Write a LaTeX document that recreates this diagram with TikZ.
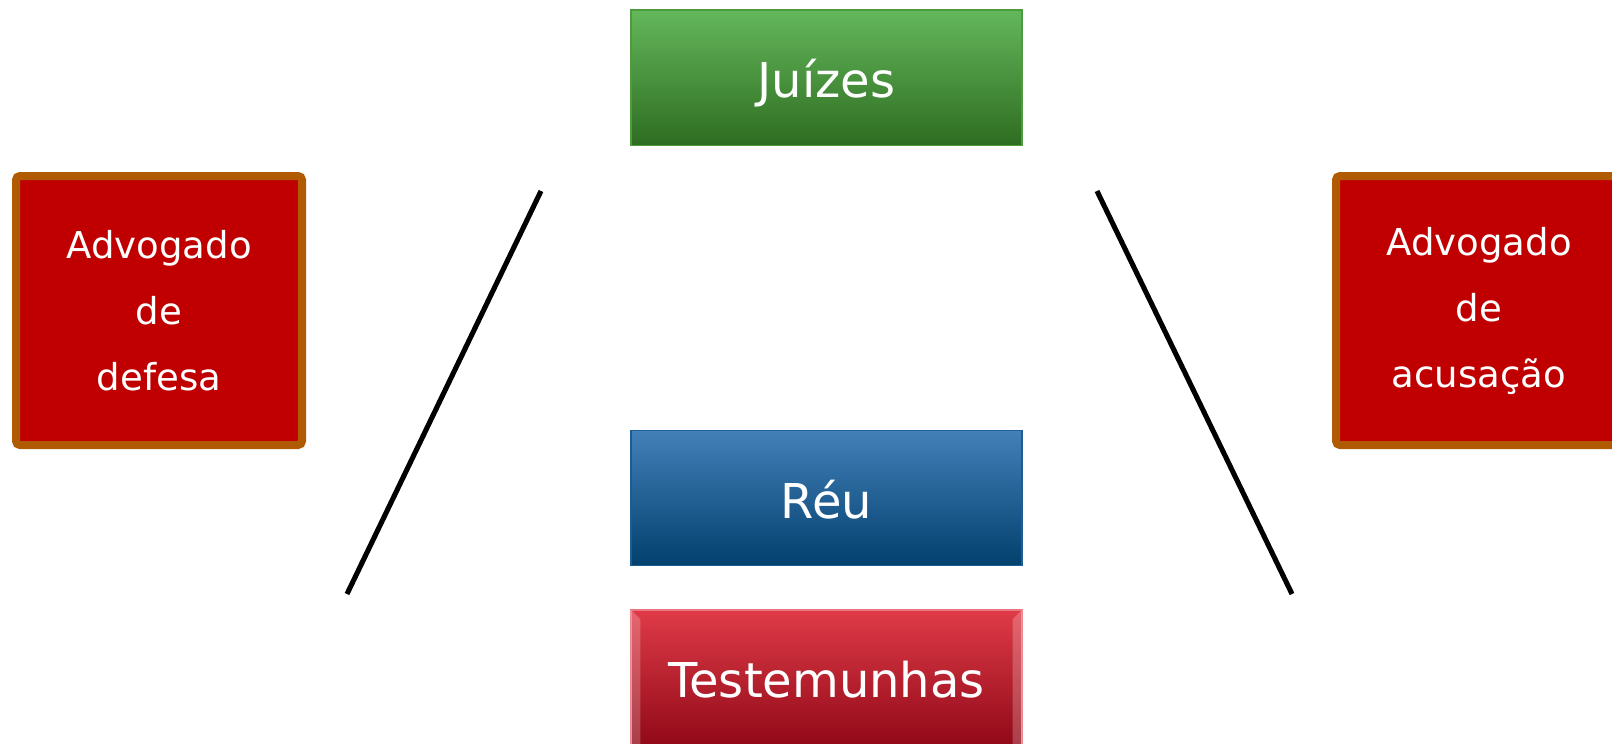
\documentclass[tikz,border=0pt]{standalone}
\usepackage{fontspec}
\setmainfont{DejaVu Sans}
\definecolor{juizTop}{HTML}{64B75B}
\definecolor{juizBot}{HTML}{2E6D21}
\definecolor{juizLine}{HTML}{4C9C3E}
\definecolor{reuTop}{HTML}{4380B9}
\definecolor{reuBot}{HTML}{02406E}
\definecolor{reuLine}{HTML}{1B5E96}
\definecolor{testTop}{HTML}{DF3B47}
\definecolor{testBot}{HTML}{910918}
\definecolor{advFill}{HTML}{C00000}
\definecolor{advLine}{HTML}{B05A04}
\tikzset{
  role/.style={minimum width=293.25pt, minimum height=101.5pt, inner sep=0pt,
    text=white, font=\fontsize{36}{40}\selectfont, text height=30pt, text depth=0pt,
    line width=1pt},
  lawyer/.style={minimum width=214.5pt, minimum height=201.75pt, inner sep=0pt,
    fill=advFill, draw=advLine, line width=6pt, rounded corners=3pt,
    text=white, align=center, font=\fontsize{27.8}{49.5}\selectfont,
    execute at begin node={\rule{0pt}{28pt}}},
  bar/.style={line width=3.8pt}
}
\begin{document}
\begin{tikzpicture}[x=0.75pt,y=-0.75pt]
  \useasboundingbox (0,0) rectangle (1612,743);
  \node [role, top color=juizTop, bottom color=juizBot, draw=juizLine] (juizes) at (826.5, 77.5) {Juízes};
  \node [role, top color=reuTop, bottom color=reuBot, draw=reuLine] (reu) at (826.5, 498) {Réu};
  \node [role, top color=testTop, bottom color=testBot, draw=testTop!70!white] (test) at (826.5, 677.5) {};
  % bevel on the witness box
  \fill [white, opacity=0.22] (test.north west) -- ++(10,10) -- ([xshift=7.5pt]test.south west) -- (test.south west) -- cycle;
  \fill [white, opacity=0.22] (test.north east) -- ++(-10,10) -- ([xshift=-7.5pt]test.south east) -- (test.south east) -- cycle;
  \path (test.center) node [role] (testlabel) {Testemunhas};
  \node [lawyer] (defesa) at (159, 310.5) {Advogado\\de\\defesa};
  \node [lawyer] (acusacao) at (1479, 310.5) {Advogado\\de\\acusação};
  % the two slanted lines
  \coordinate (lt) at (541, 191);
  \coordinate (lb) at (347, 594);
  \coordinate (rt) at (1097, 191);
  \coordinate (rb) at (1292, 594);
  \draw [bar] (lt) -- (lb);
  \draw [bar] (rt) -- (rb);
\end{tikzpicture}
\end{document}
